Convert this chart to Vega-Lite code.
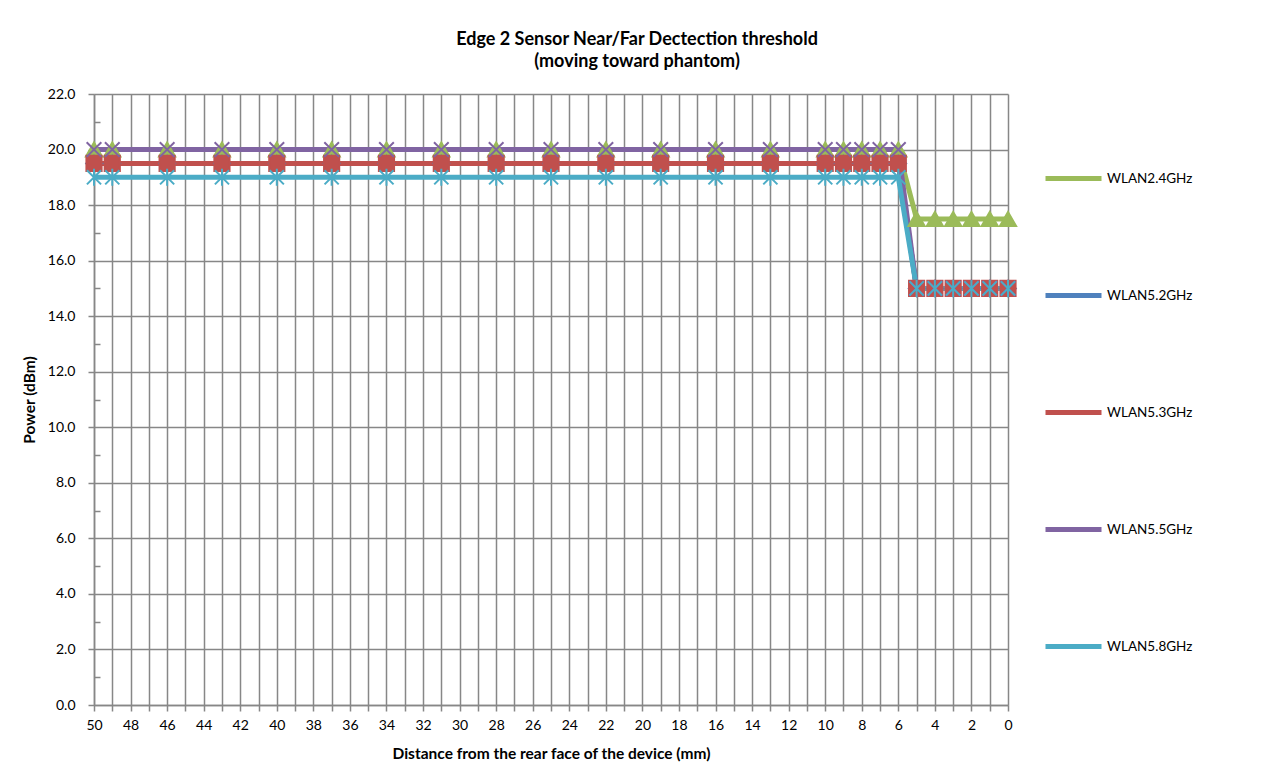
{
  "$schema": "https://vega.github.io/schema/vega-lite/v6.json",
  "width": 914,
  "height": 611,
  "autosize": {"type": "none"},
  "padding": {"left": 94, "top": 94, "right": 267, "bottom": 75},
  "background": "white",
  "title": {
    "text": ["Edge 2 Sensor Near/Far Dectection threshold", "(moving toward phantom)"],
    "font": "Lato",
    "fontSize": 18,
    "fontWeight": "bold",
    "color": "#000000",
    "lineHeight": 22,
    "anchor": "middle",
    "frame": "group",
    "dx": 86,
    "offset": 16
  },
  "data": {
    "values": [
      {"band": "WLAN2.4GHz", "d": 50, "power": 20}, {"band": "WLAN2.4GHz", "d": 49, "power": 20}, {"band": "WLAN2.4GHz", "d": 46, "power": 20}, {"band": "WLAN2.4GHz", "d": 43, "power": 20}, {"band": "WLAN2.4GHz", "d": 40, "power": 20}, {"band": "WLAN2.4GHz", "d": 37, "power": 20}, {"band": "WLAN2.4GHz", "d": 34, "power": 20}, {"band": "WLAN2.4GHz", "d": 31, "power": 20}, {"band": "WLAN2.4GHz", "d": 28, "power": 20}, {"band": "WLAN2.4GHz", "d": 25, "power": 20}, {"band": "WLAN2.4GHz", "d": 22, "power": 20}, {"band": "WLAN2.4GHz", "d": 19, "power": 20}, {"band": "WLAN2.4GHz", "d": 16, "power": 20}, {"band": "WLAN2.4GHz", "d": 13, "power": 20}, {"band": "WLAN2.4GHz", "d": 10, "power": 20}, {"band": "WLAN2.4GHz", "d": 9, "power": 20}, {"band": "WLAN2.4GHz", "d": 8, "power": 20}, {"band": "WLAN2.4GHz", "d": 7, "power": 20}, {"band": "WLAN2.4GHz", "d": 6, "power": 20}, {"band": "WLAN2.4GHz", "d": 5, "power": 17.5}, {"band": "WLAN2.4GHz", "d": 4, "power": 17.5}, {"band": "WLAN2.4GHz", "d": 3, "power": 17.5}, {"band": "WLAN2.4GHz", "d": 2, "power": 17.5}, {"band": "WLAN2.4GHz", "d": 1, "power": 17.5}, {"band": "WLAN2.4GHz", "d": 0, "power": 17.5},
      {"band": "WLAN5.2GHz", "d": 50, "power": 19.5}, {"band": "WLAN5.2GHz", "d": 49, "power": 19.5}, {"band": "WLAN5.2GHz", "d": 46, "power": 19.5}, {"band": "WLAN5.2GHz", "d": 43, "power": 19.5}, {"band": "WLAN5.2GHz", "d": 40, "power": 19.5}, {"band": "WLAN5.2GHz", "d": 37, "power": 19.5}, {"band": "WLAN5.2GHz", "d": 34, "power": 19.5}, {"band": "WLAN5.2GHz", "d": 31, "power": 19.5}, {"band": "WLAN5.2GHz", "d": 28, "power": 19.5}, {"band": "WLAN5.2GHz", "d": 25, "power": 19.5}, {"band": "WLAN5.2GHz", "d": 22, "power": 19.5}, {"band": "WLAN5.2GHz", "d": 19, "power": 19.5}, {"band": "WLAN5.2GHz", "d": 16, "power": 19.5}, {"band": "WLAN5.2GHz", "d": 13, "power": 19.5}, {"band": "WLAN5.2GHz", "d": 10, "power": 19.5}, {"band": "WLAN5.2GHz", "d": 9, "power": 19.5}, {"band": "WLAN5.2GHz", "d": 8, "power": 19.5}, {"band": "WLAN5.2GHz", "d": 7, "power": 19.5}, {"band": "WLAN5.2GHz", "d": 6, "power": 19.5}, {"band": "WLAN5.2GHz", "d": 5, "power": 15}, {"band": "WLAN5.2GHz", "d": 4, "power": 15}, {"band": "WLAN5.2GHz", "d": 3, "power": 15}, {"band": "WLAN5.2GHz", "d": 2, "power": 15}, {"band": "WLAN5.2GHz", "d": 1, "power": 15}, {"band": "WLAN5.2GHz", "d": 0, "power": 15},
      {"band": "WLAN5.3GHz", "d": 50, "power": 19.5}, {"band": "WLAN5.3GHz", "d": 49, "power": 19.5}, {"band": "WLAN5.3GHz", "d": 46, "power": 19.5}, {"band": "WLAN5.3GHz", "d": 43, "power": 19.5}, {"band": "WLAN5.3GHz", "d": 40, "power": 19.5}, {"band": "WLAN5.3GHz", "d": 37, "power": 19.5}, {"band": "WLAN5.3GHz", "d": 34, "power": 19.5}, {"band": "WLAN5.3GHz", "d": 31, "power": 19.5}, {"band": "WLAN5.3GHz", "d": 28, "power": 19.5}, {"band": "WLAN5.3GHz", "d": 25, "power": 19.5}, {"band": "WLAN5.3GHz", "d": 22, "power": 19.5}, {"band": "WLAN5.3GHz", "d": 19, "power": 19.5}, {"band": "WLAN5.3GHz", "d": 16, "power": 19.5}, {"band": "WLAN5.3GHz", "d": 13, "power": 19.5}, {"band": "WLAN5.3GHz", "d": 10, "power": 19.5}, {"band": "WLAN5.3GHz", "d": 9, "power": 19.5}, {"band": "WLAN5.3GHz", "d": 8, "power": 19.5}, {"band": "WLAN5.3GHz", "d": 7, "power": 19.5}, {"band": "WLAN5.3GHz", "d": 6, "power": 19.5}, {"band": "WLAN5.3GHz", "d": 5, "power": 15}, {"band": "WLAN5.3GHz", "d": 4, "power": 15}, {"band": "WLAN5.3GHz", "d": 3, "power": 15}, {"band": "WLAN5.3GHz", "d": 2, "power": 15}, {"band": "WLAN5.3GHz", "d": 1, "power": 15}, {"band": "WLAN5.3GHz", "d": 0, "power": 15},
      {"band": "WLAN5.5GHz", "d": 50, "power": 20}, {"band": "WLAN5.5GHz", "d": 49, "power": 20}, {"band": "WLAN5.5GHz", "d": 46, "power": 20}, {"band": "WLAN5.5GHz", "d": 43, "power": 20}, {"band": "WLAN5.5GHz", "d": 40, "power": 20}, {"band": "WLAN5.5GHz", "d": 37, "power": 20}, {"band": "WLAN5.5GHz", "d": 34, "power": 20}, {"band": "WLAN5.5GHz", "d": 31, "power": 20}, {"band": "WLAN5.5GHz", "d": 28, "power": 20}, {"band": "WLAN5.5GHz", "d": 25, "power": 20}, {"band": "WLAN5.5GHz", "d": 22, "power": 20}, {"band": "WLAN5.5GHz", "d": 19, "power": 20}, {"band": "WLAN5.5GHz", "d": 16, "power": 20}, {"band": "WLAN5.5GHz", "d": 13, "power": 20}, {"band": "WLAN5.5GHz", "d": 10, "power": 20}, {"band": "WLAN5.5GHz", "d": 9, "power": 20}, {"band": "WLAN5.5GHz", "d": 8, "power": 20}, {"band": "WLAN5.5GHz", "d": 7, "power": 20}, {"band": "WLAN5.5GHz", "d": 6, "power": 20}, {"band": "WLAN5.5GHz", "d": 5, "power": 15}, {"band": "WLAN5.5GHz", "d": 4, "power": 15}, {"band": "WLAN5.5GHz", "d": 3, "power": 15}, {"band": "WLAN5.5GHz", "d": 2, "power": 15}, {"band": "WLAN5.5GHz", "d": 1, "power": 15}, {"band": "WLAN5.5GHz", "d": 0, "power": 15},
      {"band": "WLAN5.8GHz", "d": 50, "power": 19}, {"band": "WLAN5.8GHz", "d": 49, "power": 19}, {"band": "WLAN5.8GHz", "d": 46, "power": 19}, {"band": "WLAN5.8GHz", "d": 43, "power": 19}, {"band": "WLAN5.8GHz", "d": 40, "power": 19}, {"band": "WLAN5.8GHz", "d": 37, "power": 19}, {"band": "WLAN5.8GHz", "d": 34, "power": 19}, {"band": "WLAN5.8GHz", "d": 31, "power": 19}, {"band": "WLAN5.8GHz", "d": 28, "power": 19}, {"band": "WLAN5.8GHz", "d": 25, "power": 19}, {"band": "WLAN5.8GHz", "d": 22, "power": 19}, {"band": "WLAN5.8GHz", "d": 19, "power": 19}, {"band": "WLAN5.8GHz", "d": 16, "power": 19}, {"band": "WLAN5.8GHz", "d": 13, "power": 19}, {"band": "WLAN5.8GHz", "d": 10, "power": 19}, {"band": "WLAN5.8GHz", "d": 9, "power": 19}, {"band": "WLAN5.8GHz", "d": 8, "power": 19}, {"band": "WLAN5.8GHz", "d": 7, "power": 19}, {"band": "WLAN5.8GHz", "d": 6, "power": 19}, {"band": "WLAN5.8GHz", "d": 5, "power": 15}, {"band": "WLAN5.8GHz", "d": 4, "power": 15}, {"band": "WLAN5.8GHz", "d": 3, "power": 15}, {"band": "WLAN5.8GHz", "d": 2, "power": 15}, {"band": "WLAN5.8GHz", "d": 1, "power": 15}, {"band": "WLAN5.8GHz", "d": 0, "power": 15}
    ]
  },
  "encoding": {
    "x": {
      "field": "d",
      "type": "quantitative",
      "scale": {"domain": [0, 50], "reverse": true, "nice": false, "zero": false},
      "axis": {
        "title": "Distance from the rear face of the device (mm)",
        "values": [0,1,2,3,4,5,6,7,8,9,10,11,12,13,14,15,16,17,18,19,20,21,22,23,24,25,26,27,28,29,30,31,32,33,34,35,36,37,38,39,40,41,42,43,44,45,46,47,48,49,50],
        "labelExpr": "datum.value % 2 === 0 ? datum.value : ''",
        "labelFlush": false,
        "labelOverlap": false,
        "tickSize": 6,
        "labelPadding": 7,
        "titlePadding": 14
      }
    },
    "y": {
      "field": "power",
      "type": "quantitative",
      "scale": {"domain": [0, 22], "nice": false},
      "axis": {
        "title": "Power (dBm)",
        "values": [0,1,2,3,4,5,6,7,8,9,10,11,12,13,14,15,16,17,18,19,20,21,22],
        "labelExpr": "datum.value % 2 === 0 ? format(datum.value, '.1f') : ''",
        "labelOverlap": false,
        "gridOpacity": {"condition": {"test": "datum.value % 2 === 1", "value": 0}, "value": 1},
        "tickSize": {"condition": {"test": "datum.value % 2 === 1", "value": -6}, "value": 6},
        "labelPadding": 13,
        "titlePadding": 10
      }
    }
  },
  "layer": [
    {
      "mark": {"type": "line", "strokeWidth": 5, "strokeJoin": "miter"},
      "encoding": {
        "color": {
          "field": "band",
          "type": "nominal",
          "scale": {
            "domain": ["WLAN2.4GHz", "WLAN5.2GHz", "WLAN5.3GHz", "WLAN5.5GHz", "WLAN5.8GHz"],
            "range": ["#9bbb59", "#4f81bd", "#c0504d", "#8064a2", "#4bacc6"]
          },
          "legend": {
            "title": null,
            "orient": "none",
            "legendX": 949,
            "legendY": 54,
            "symbolType": "stroke",
            "symbolSize": 3136,
            "symbolStrokeWidth": 5,
            "rowPadding": 76,
            "labelFont": "Lato",
            "labelFontSize": 13.5,
            "labelColor": "#000000",
            "labelOffset": 3
          }
        }
      }
    },
    {
      "mark": {"type": "point", "filled": false, "opacity": 1, "strokeWidth": 2},
      "encoding": {
        "shape": {
          "field": "band",
          "type": "nominal",
          "scale": {
            "domain": ["WLAN2.4GHz", "WLAN5.2GHz", "WLAN5.3GHz", "WLAN5.5GHz", "WLAN5.8GHz"],
            "range": ["triangle-up", "diamond", "square", "M-1,-1L1,1M-1,1L1,-1", "M-1,-1L1,1M-1,1L1,-1M0,-1.2L0,1.2"]
          },
          "legend": null
        },
        "fill": {
          "field": "band",
          "type": "nominal",
          "scale": {
            "domain": ["WLAN2.4GHz", "WLAN5.2GHz", "WLAN5.3GHz", "WLAN5.5GHz", "WLAN5.8GHz"],
            "range": ["#9bbb59", "#4f81bd", "#c0504d", "#8064a2", "#4bacc6"]
          },
          "legend": null
        },
        "stroke": {
          "field": "band",
          "type": "nominal",
          "scale": {
            "domain": ["WLAN2.4GHz", "WLAN5.2GHz", "WLAN5.3GHz", "WLAN5.5GHz", "WLAN5.8GHz"],
            "range": ["#9bbb59", "#4f81bd", "#c0504d", "#8064a2", "#4bacc6"]
          },
          "legend": null
        },
        "size": {
          "field": "band",
          "type": "nominal",
          "scale": {
            "domain": ["WLAN2.4GHz", "WLAN5.2GHz", "WLAN5.3GHz", "WLAN5.5GHz", "WLAN5.8GHz"],
            "range": [260, 200, 480, 480, 480]
          },
          "legend": null
        }
      }
    }
  ],
  "resolve": {"legend": {"color": "independent", "shape": "independent", "fill": "independent", "stroke": "independent", "size": "independent"}},
  "config": {
    "font": "Lato",
    "view": {"stroke": null},
    "axis": {
      "domainColor": "#878787",
      "domainWidth": 1.5,
      "gridColor": "#878787",
      "gridWidth": 1.5,
      "tickColor": "#878787",
      "tickWidth": 1.5,
      "labelFont": "Lato",
      "labelFontSize": 14,
      "labelColor": "#000000",
      "titleFont": "Lato",
      "titleFontSize": 15.5,
      "titleFontWeight": "bold",
      "titleColor": "#000000"
    }
  }
}
